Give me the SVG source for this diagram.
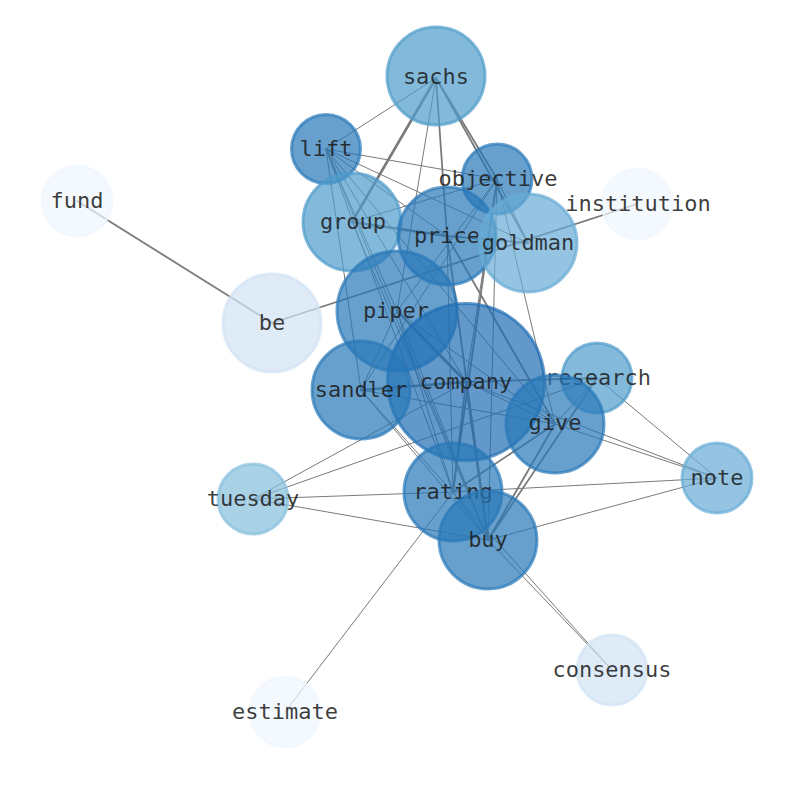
<svg xmlns="http://www.w3.org/2000/svg" width="794" height="790" viewBox="0 0 794 790">
<style>
.e{stroke:#7a7a7a;fill:none;stroke-linecap:round}
.w1{stroke-width:1}
.w2{stroke-width:1.8}
.w3{stroke-width:2.6}
.n circle{fill-opacity:0.7;stroke-opacity:0.7;stroke-width:3}
.n text{font-family:"DejaVu Sans Mono","Liberation Mono",monospace;font-size:22px;fill:#1a1a1a;fill-opacity:0.85;text-anchor:middle}
.c1{fill:#1f6eb3;stroke:#1f6eb3}
.c2{fill:#2878b8;stroke:#2878b8}
.c3{fill:#4f9bcb;stroke:#4f9bcb}
.c4{fill:#67abd6;stroke:#67abd6}
.c5{fill:#86bfdc;stroke:#86bfdc}
.c6{fill:#d2e3f3;stroke:#d2e3f3}
.c7{fill:#eff6fe;stroke:#eff6fe}
</style>
<rect width="794" height="790" fill="#ffffff"/>
<g id="edges">
<line class="e w2" x1="77" y1="201" x2="272" y2="323"/>
<line class="e w2" x1="272" y1="323" x2="637" y2="204"/>
<line class="e w1" x1="436" y1="78" x2="326" y2="149"/>
<line class="e w3" x1="436" y1="78" x2="352" y2="222"/>
<line class="e w1" x1="436" y1="78" x2="397" y2="311"/>
<line class="e w2" x1="436" y1="78" x2="447" y2="236"/>
<line class="e w2" x1="436" y1="78" x2="497" y2="179"/>
<line class="e w2" x1="436" y1="78" x2="528" y2="243"/>
<line class="e w1" x1="326" y1="149" x2="497" y2="179"/>
<line class="e w1" x1="326" y1="149" x2="447" y2="236"/>
<line class="e w1" x1="326" y1="149" x2="528" y2="243"/>
<line class="e w1" x1="326" y1="149" x2="397" y2="311"/>
<line class="e w1" x1="326" y1="149" x2="361" y2="390"/>
<line class="e w1" x1="326" y1="149" x2="466" y2="382"/>
<line class="e w1" x1="326" y1="149" x2="555" y2="424"/>
<line class="e w1" x1="326" y1="149" x2="453" y2="492"/>
<line class="e w1" x1="326" y1="149" x2="488" y2="540"/>
<line class="e w3" x1="352" y1="222" x2="447" y2="236"/>
<line class="e w2" x1="447" y1="236" x2="528" y2="243"/>
<line class="e w1" x1="352" y1="222" x2="497" y2="179"/>
<line class="e w1" x1="352" y1="222" x2="488" y2="540"/>
<line class="e w2" x1="447" y1="236" x2="555" y2="424"/>
<line class="e w2" x1="447" y1="236" x2="488" y2="540"/>
<line class="e w1" x1="447" y1="236" x2="453" y2="492"/>
<line class="e w1" x1="497" y1="179" x2="397" y2="311"/>
<line class="e w1" x1="497" y1="179" x2="361" y2="390"/>
<line class="e w1" x1="497" y1="179" x2="466" y2="382"/>
<line class="e w2" x1="497" y1="179" x2="453" y2="492"/>
<line class="e w1" x1="497" y1="179" x2="488" y2="540"/>
<line class="e w1" x1="497" y1="179" x2="555" y2="424"/>
<line class="e w1" x1="497" y1="179" x2="528" y2="243"/>
<line class="e w3" x1="397" y1="311" x2="466" y2="382"/>
<line class="e w1" x1="397" y1="311" x2="361" y2="390"/>
<line class="e w1" x1="397" y1="311" x2="555" y2="424"/>
<line class="e w1" x1="397" y1="311" x2="488" y2="540"/>
<line class="e w1" x1="397" y1="311" x2="453" y2="492"/>
<line class="e w3" x1="466" y1="382" x2="361" y2="390"/>
<line class="e w2" x1="466" y1="382" x2="597" y2="378"/>
<line class="e w1" x1="466" y1="382" x2="555" y2="424"/>
<line class="e w3" x1="466" y1="382" x2="488" y2="540"/>
<line class="e w2" x1="466" y1="382" x2="453" y2="492"/>
<line class="e w1" x1="466" y1="382" x2="717" y2="478"/>
<line class="e w1" x1="466" y1="382" x2="253" y2="499"/>
<line class="e w1" x1="361" y1="390" x2="555" y2="424"/>
<line class="e w1" x1="361" y1="390" x2="488" y2="540"/>
<line class="e w1" x1="361" y1="390" x2="612" y2="670"/>
<line class="e w1" x1="597" y1="378" x2="555" y2="424"/>
<line class="e w1" x1="597" y1="378" x2="717" y2="478"/>
<line class="e w1" x1="597" y1="378" x2="253" y2="499"/>
<line class="e w2" x1="597" y1="378" x2="488" y2="540"/>
<line class="e w1" x1="555" y1="424" x2="717" y2="478"/>
<line class="e w2" x1="555" y1="424" x2="488" y2="540"/>
<line class="e w2" x1="555" y1="424" x2="453" y2="492"/>
<line class="e w1" x1="253" y1="499" x2="453" y2="492"/>
<line class="e w1" x1="453" y1="492" x2="717" y2="478"/>
<line class="e w1" x1="253" y1="499" x2="488" y2="540"/>
<line class="e w1" x1="453" y1="492" x2="285" y2="712"/>
<line class="e w1" x1="453" y1="492" x2="488" y2="540"/>
<line class="e w1" x1="717" y1="478" x2="488" y2="540"/>
<line class="e w1" x1="488" y1="540" x2="612" y2="670"/>
</g>
<g id="node-sachs" class="n"><circle class="c3" cx="436" cy="76" r="49"/><text x="436" y="84">sachs</text></g>
<g id="node-lift" class="n"><circle class="c2" cx="326" cy="149" r="34.5"/><text x="326" y="156">lift</text></g>
<g id="node-objective" class="n"><circle class="c2" cx="497" cy="179" r="35"/><text x="498" y="186">objective</text></g>
<g id="node-fund" class="n"><circle class="c7" cx="77" cy="201" r="35"/><text x="77" y="208">fund</text></g>
<g id="node-institution" class="n"><circle class="c7" cx="637" cy="204" r="35"/><text x="638" y="211">institution</text></g>
<g id="node-group" class="n"><circle class="c3" cx="352" cy="222" r="49"/><text x="353" y="229">group</text></g>
<g id="node-price" class="n"><circle class="c2" cx="447" cy="236" r="49"/><text x="447" y="243">price</text></g>
<g id="node-goldman" class="n"><circle class="c4" cx="528" cy="243" r="49"/><text x="528" y="250">goldman</text></g>
<g id="node-piper" class="n"><circle class="c2" cx="397" cy="311" r="60"/><text x="396" y="318">piper</text></g>
<g id="node-be" class="n"><circle class="c6" cx="272" cy="323" r="49"/><text x="272" y="330">be</text></g>
<g id="node-company" class="n"><circle class="c1" cx="466" cy="382" r="78.5"/><text x="466" y="389">company</text></g>
<g id="node-sandler" class="n"><circle class="c2" cx="361" cy="390" r="49"/><text x="361" y="397">sandler</text></g>
<g id="node-research" class="n"><circle class="c3" cx="597" cy="378" r="35"/><text x="598" y="385">research</text></g>
<g id="node-give" class="n"><circle class="c2" cx="555" cy="424" r="49"/><text x="555" y="430">give</text></g>
<g id="node-note" class="n"><circle class="c4" cx="717" cy="478" r="35"/><text x="717" y="485">note</text></g>
<g id="node-tuesday" class="n"><circle class="c5" cx="253" cy="499" r="35"/><text x="253" y="506">tuesday</text></g>
<g id="node-rating" class="n"><circle class="c2" cx="453" cy="492" r="49"/><text x="453" y="499">rating</text></g>
<g id="node-buy" class="n"><circle class="c2" cx="488" cy="540" r="49"/><text x="488" y="547">buy</text></g>
<g id="node-consensus" class="n"><circle class="c6" cx="612" cy="670" r="35"/><text x="612" y="677">consensus</text></g>
<g id="node-estimate" class="n"><circle class="c7" cx="285" cy="712" r="35"/><text x="285" y="719">estimate</text></g>
</svg>
